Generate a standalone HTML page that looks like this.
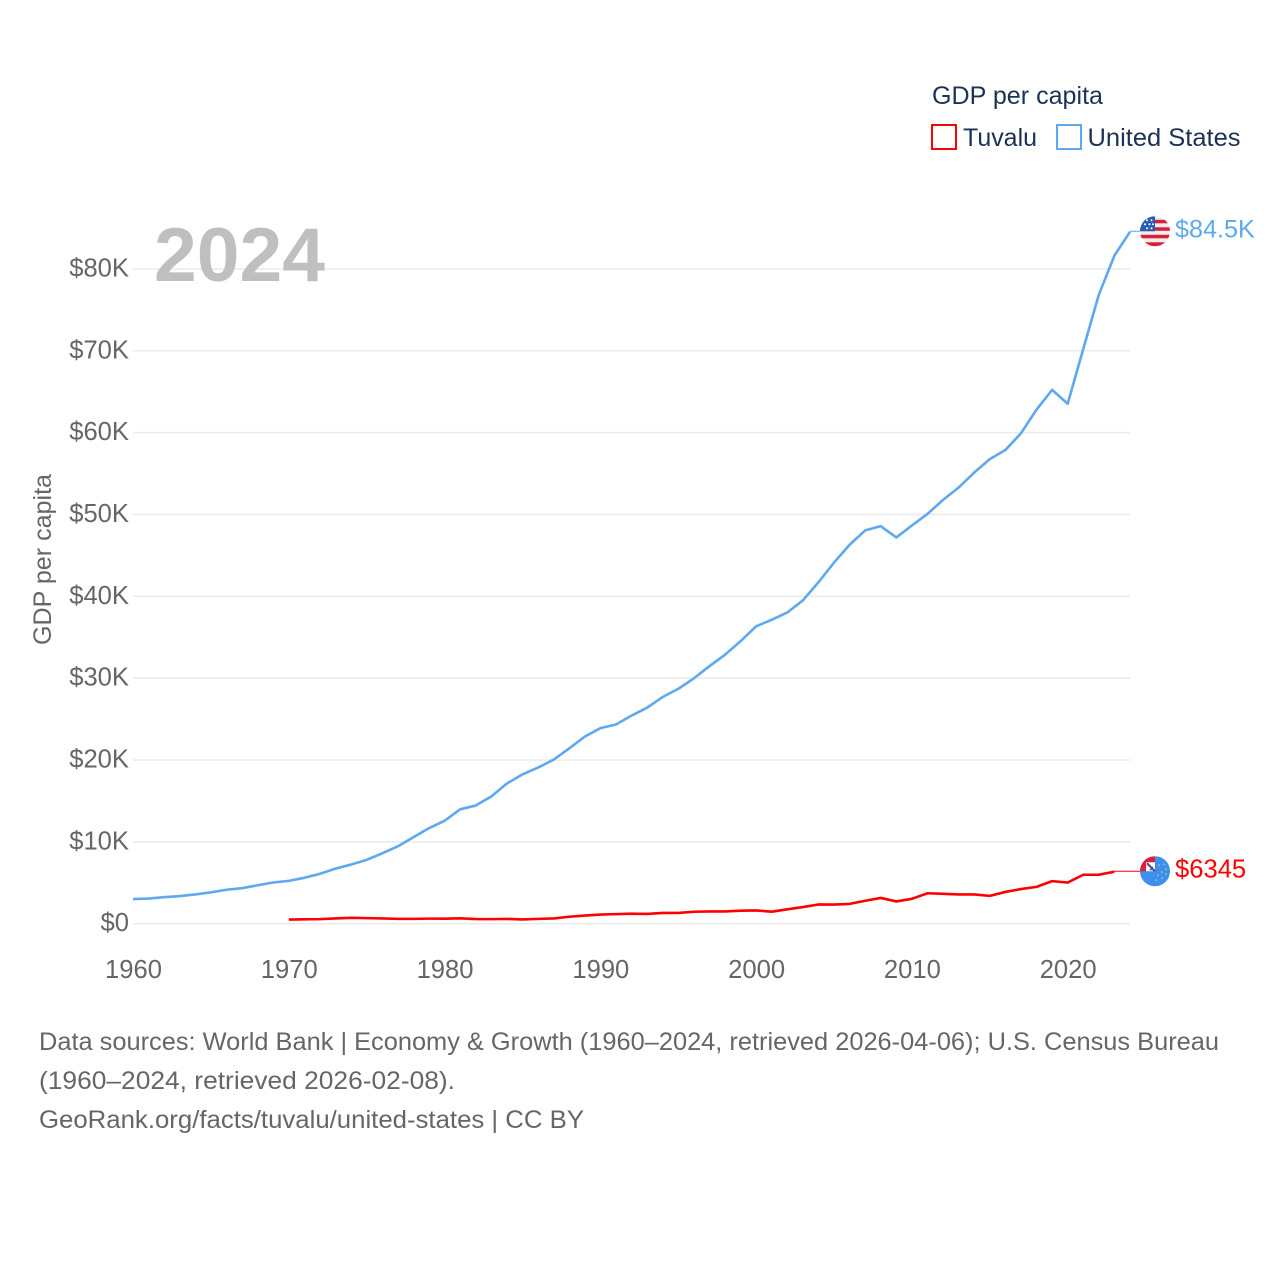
<!DOCTYPE html>
<html lang="en">
<head>
<meta charset="utf-8">
<title>GDP per capita: Tuvalu and United States</title>
<style>
  html, body { margin: 0; padding: 0; background: #fff; }
  #stage { display: block; width: 1280px; height: 1280px; }
  text { font-family: "Liberation Sans", sans-serif; }
</style>
</head>
<body>
<svg id="stage" xmlns="http://www.w3.org/2000/svg" width="1280" height="1280" viewBox="0 0 1280 1280">
  <defs>
    <clipPath id="flag-clip"><circle cx="0" cy="0" r="15"></circle></clipPath>
  </defs>
  <rect x="0" y="0" width="1280" height="1280" fill="#ffffff"></rect>

  <g id="grid"></g>
  <g id="y-axis"></g>
  <g id="x-axis"></g>

  <text x="154" y="281" font-size="76" font-weight="700" fill="#bfbfbf" textLength="171" lengthAdjust="spacingAndGlyphs">2024</text>

  <text transform="translate(51,645) rotate(-90)" font-size="25" fill="#666666" textLength="171" lengthAdjust="spacingAndGlyphs">GDP per capita</text>

  <g id="series"></g>

  <g id="flag-us" clip-path="url(#flag-clip)">
    <rect x="-15" y="-15" width="30" height="30" fill="#eeeeee"></rect>
    <rect x="-15" y="-11.5" width="30" height="3.5" fill="#d8203a"></rect>
    <rect x="-15" y="-4" width="30" height="3.5" fill="#d8203a"></rect>
    <rect x="-15" y="3.5" width="30" height="3.5" fill="#d8203a"></rect>
    <rect x="-15" y="11" width="30" height="4" fill="#d8203a"></rect>
    <rect x="-15" y="-15" width="15" height="15" fill="#2a5cb4"></rect>
    <circle cx="-8" cy="-11" r="1" fill="#ffffff"></circle>
    <circle cx="-3.5" cy="-11" r="1" fill="#ffffff"></circle>
    <circle cx="-10" cy="-7" r="1" fill="#ffffff"></circle>
    <circle cx="-5.5" cy="-7" r="1" fill="#ffffff"></circle>
    <circle cx="-2" cy="-7" r="1" fill="#ffffff"></circle>
    <circle cx="-8" cy="-3" r="1" fill="#ffffff"></circle>
    <circle cx="-3.5" cy="-3" r="1" fill="#ffffff"></circle>
  </g>

  <g id="flag-tv" clip-path="url(#flag-clip)">
    <rect x="-15" y="-15" width="30" height="30" fill="#3a8fef"></rect>
    <rect x="-15" y="-15" width="15" height="15" fill="#d8203a"></rect>
    <rect x="-9" y="-9" width="9" height="9" fill="#ffffff"></rect>
    <path d="M-8 -8 L0 0" stroke="#6a3c70" stroke-width="2" fill="none"></path>
    <path d="M-2 -5 L-2 -1 L-6 -1 Z" fill="#2a5cb4"></path>
    <circle cx="4" cy="-6" r="1" fill="#a8b4a0"></circle>
    <circle cx="9" cy="-7" r="1" fill="#a8b4a0"></circle>
    <circle cx="11" cy="-2" r="1" fill="#a8b4a0"></circle>
    <circle cx="7" cy="1" r="1" fill="#a8b4a0"></circle>
    <circle cx="11" cy="3" r="1" fill="#a8b4a0"></circle>
    <circle cx="3" cy="4" r="1" fill="#a8b4a0"></circle>
    <circle cx="7" cy="7" r="1" fill="#a8b4a0"></circle>
    <circle cx="1" cy="9" r="1" fill="#a8b4a0"></circle>
  </g>

  <text id="label-us" x="1175" font-size="25.2" fill="#5ea8ee"></text>
  <text id="label-tv" x="1175" font-size="25.6" fill="#ff0000"></text>

  <g>
    <text x="932" y="104" font-size="25" fill="#1a3354" textLength="171" lengthAdjust="spacingAndGlyphs">GDP per capita</text>
    <g>
      <rect x="932" y="125" width="24" height="24" fill="none" stroke="#ff0000" stroke-width="2"></rect>
      <text x="963" y="146" font-size="25" fill="#1a3354" textLength="74" lengthAdjust="spacingAndGlyphs">Tuvalu</text>
    </g>
    <g>
      <rect x="1057" y="125" width="24" height="24" fill="none" stroke="#5ea8ee" stroke-width="2"></rect>
      <text x="1087.5" y="146" font-size="25" fill="#1a3354" textLength="153" lengthAdjust="spacingAndGlyphs">United States</text>
    </g>
  </g>

  <g>
    <text x="39" y="1050" font-size="25" fill="#666666" textLength="1180" lengthAdjust="spacingAndGlyphs">Data sources: World Bank | Economy &amp; Growth (1960–2024, retrieved 2026-04-06); U.S. Census Bureau</text>
    <text x="39" y="1089" font-size="25" fill="#666666" textLength="416" lengthAdjust="spacingAndGlyphs">(1960–2024, retrieved 2026-02-08).</text>
    <text x="39" y="1128" font-size="25" fill="#666666" textLength="545" lengthAdjust="spacingAndGlyphs">GeoRank.org/facts/tuvalu/united-states | CC BY</text>
  </g>
</svg>

<script>
const usStartYear = 1960;
const tuvaluStartYear = 1970;
const usValues = [3007,3067,3244,3375,3574,3828,4146,4336,4696,5032,5234,5609,6094,6726,7226,7801,8592,9453,10565,11674,12575,13976,14434,15544,17121,18237,19071,20039,21417,22857,23889,24342,25419,26387,27695,28691,29968,31459,32854,34515,36330,37134,38023,39497,41713,44115,46299,48050,48570,47195,48651,50066,51784,53291,55124,56763,57867,59915,62805,65220,63528,70219,76850,81623,84534];
const tuvaluValues = [500,530,560,640,720,680,640,590,590,620,610,660,570,560,590,520,590,640,850,1000,1120,1170,1220,1190,1310,1320,1460,1500,1500,1590,1620,1470,1760,2030,2350,2340,2420,2800,3150,2720,3040,3720,3650,3570,3580,3400,3880,4230,4500,5200,5030,5980,5990,6345];
const yTickValues = [0,10000,20000,30000,40000,50000,60000,70000,80000];
const yTickLabels = ["$0","$10K","$20K","$30K","$40K","$50K","$60K","$70K","$80K"];
const xTickYears = [1960,1970,1980,1990,2000,2010,2020];
const usValueLabel = "$84.5K";
const tuvaluValueLabel = "$6345";

const SVG_NS = "http://www.w3.org/2000/svg";
const X0 = 133, XPERYEAR = 15.578, Y0 = 923.7, YPERUNIT = 0.008185;
const CONNECTOR_END = 1140;
function xScale(year) { return X0 + (year - 1960) * XPERYEAR; }
function yScale(value) { return Y0 - value * YPERUNIT; }
const GRID_RIGHT = xScale(2024);

const gridGroup = document.getElementById("grid");
const yAxisGroup = document.getElementById("y-axis");
const xAxisGroup = document.getElementById("x-axis");
const seriesGroup = document.getElementById("series");

yTickValues.forEach(function (value, i) {
  const line = document.createElementNS(SVG_NS, "line");
  line.setAttribute("x1", X0);
  line.setAttribute("x2", GRID_RIGHT);
  line.setAttribute("y1", yScale(value));
  line.setAttribute("y2", yScale(value));
  line.setAttribute("stroke", "#ebebeb");
  line.setAttribute("stroke-width", "1.6");
  
  
  gridGroup.appendChild(line);

  const label = document.createElementNS(SVG_NS, "text");
  label.setAttribute("x", 129);
  label.setAttribute("y", yScale(value) + 7.5);
  label.setAttribute("text-anchor", "end");
  label.setAttribute("font-size", "25.6");
  label.setAttribute("fill", "#666666");
  
  
  label.textContent = yTickLabels[i];
  yAxisGroup.appendChild(label);
});

xTickYears.forEach(function (year) {
  const label = document.createElementNS(SVG_NS, "text");
  label.setAttribute("x", xScale(year) + 0.5);
  label.setAttribute("y", 978);
  label.setAttribute("text-anchor", "middle");
  label.setAttribute("font-size", "25.6");
  label.setAttribute("fill", "#666666");
  
  
  label.textContent = String(year);
  xAxisGroup.appendChild(label);
});

function pointsFor(values, startYear) {
  return values.map(function (v, i) {
    return xScale(startYear + i).toFixed(2) + "," + yScale(v).toFixed(2);
  }).join(" ");
}

function lastPoint(values, startYear) {
  const last = values.length - 1;
  return { x: xScale(startYear + last), y: yScale(values[last]) };
}

const usLine = document.createElementNS(SVG_NS, "polyline");
usLine.setAttribute("points", pointsFor(usValues, usStartYear));
usLine.setAttribute("fill", "none");
usLine.setAttribute("stroke", "#5ea8ee");
usLine.setAttribute("stroke-width", "2.6");
usLine.setAttribute("stroke-linejoin", "round");


seriesGroup.appendChild(usLine);

const tvLine = document.createElementNS(SVG_NS, "polyline");
tvLine.setAttribute("points", pointsFor(tuvaluValues, tuvaluStartYear));
tvLine.setAttribute("fill", "none");
tvLine.setAttribute("stroke", "#ff0000");
tvLine.setAttribute("stroke-width", "2.6");
tvLine.setAttribute("stroke-linejoin", "round");


seriesGroup.appendChild(tvLine);

const usEnd = lastPoint(usValues, usStartYear);
const tvEnd = lastPoint(tuvaluValues, tuvaluStartYear);

const usConnector = document.createElementNS(SVG_NS, "line");
usConnector.setAttribute("x1", usEnd.x);
usConnector.setAttribute("x2", CONNECTOR_END);
usConnector.setAttribute("y1", usEnd.y - 0.5);
usConnector.setAttribute("y2", usEnd.y - 0.5);
usConnector.setAttribute("stroke", "#5ea8ee");
usConnector.setAttribute("stroke-width", "1");


seriesGroup.appendChild(usConnector);

const tvConnector = document.createElementNS(SVG_NS, "line");
tvConnector.setAttribute("x1", tvEnd.x);
tvConnector.setAttribute("x2", CONNECTOR_END);
tvConnector.setAttribute("y1", tvEnd.y - 0.5);
tvConnector.setAttribute("y2", tvEnd.y - 0.5);
tvConnector.setAttribute("stroke", "#ff0000");
tvConnector.setAttribute("stroke-width", "1");


seriesGroup.appendChild(tvConnector);

document.getElementById("flag-us").setAttribute("transform", "translate(1155," + (usEnd.y - 0.5) + ")");
document.getElementById("flag-tv").setAttribute("transform", "translate(1155," + (tvEnd.y - 0.5) + ")");

const usLabelEl = document.getElementById("label-us");
usLabelEl.setAttribute("y", usEnd.y + 5.5);
usLabelEl.textContent = usValueLabel;

const tvLabelEl = document.getElementById("label-tv");
tvLabelEl.setAttribute("y", tvEnd.y + 5.5);
tvLabelEl.textContent = tuvaluValueLabel;
</script>
</body>
</html>
